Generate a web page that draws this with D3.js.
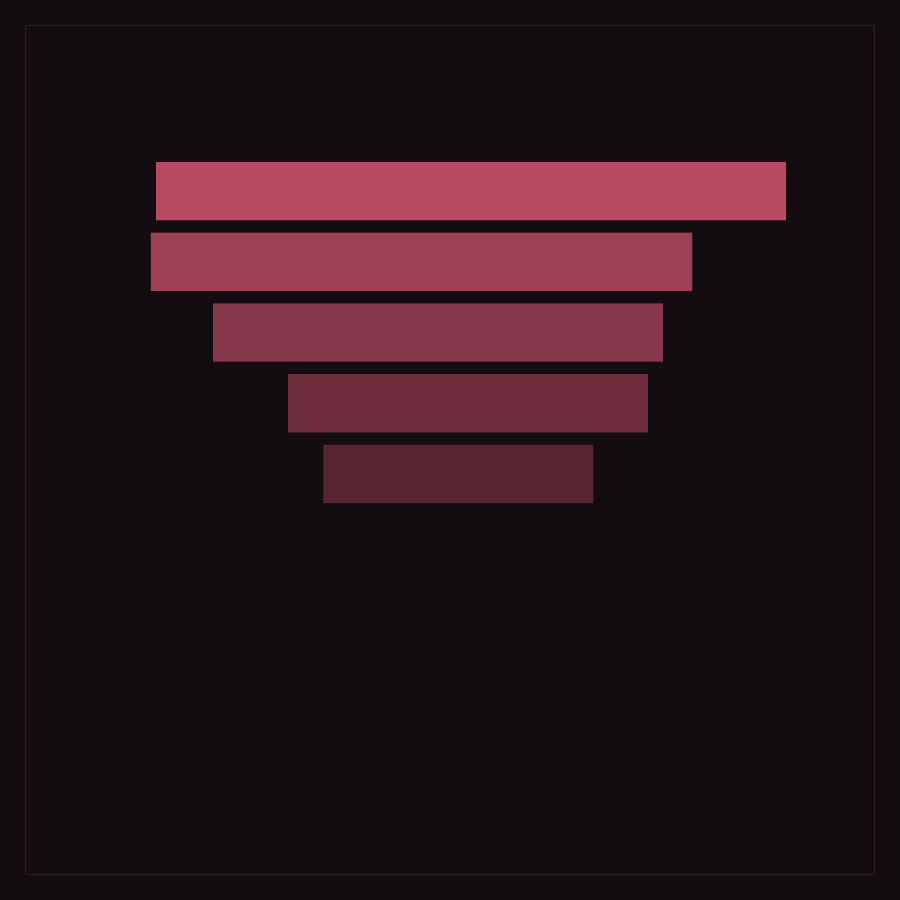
<!DOCTYPE html>
<html>
<head>
<meta charset="utf-8">
<script src="https://cdn.jsdelivr.net/npm/d3@7"></script>
<style>
  html, body { margin: 0; padding: 0; background: #130c10; }
  svg { display: block; }
</style>
</head>
<body>
<div id="chart"></div>
<script>
// etapes de l'entonnoir (pas de libelles visibles sur le graphique)
const stages = ["A", "B", "C", "D", "E"];
// debut et fin de chaque barre (unites 0-100)
const startValues = [10.8, 10.1, 18.4, 28.4, 33.1];
const endValues = [94.8, 82.3, 78.4, 76.4, 69.1];
const barColors = ["#b84a62", "#9c4053", "#87374b", "#6f2d3e", "#5a2533"];

const W = 900, H = 900;

const svg = d3.select("#chart").append("svg")
  .attr("width", W)
  .attr("height", H);

svg.append("rect")
  .attr("width", W)
  .attr("height", H)
  .attr("fill", "#130c10");

// cadre fin
svg.append("rect")
  .attr("x", 25.5)
  .attr("y", 25.5)
  .attr("width", 849)
  .attr("height", 849)
  .attr("fill", "none")
  .attr("stroke", "#2a1f25")
  .attr("stroke-width", 1);

const x = d3.scaleLinear().domain([0, 100]).range([75, 825]);
const y = d3.scaleBand().domain(stages).range([149.6, 515.5]).padding(0.175);

const data = stages.map((s, i) => ({ stage: s, start: startValues[i], end: endValues[i], color: barColors[i] }));

svg.append("g")
  .selectAll("rect")
  .data(data)
  .join("rect")
  .attr("x", d => x(d.start))
  .attr("y", d => y(d.stage))
  .attr("width", d => x(d.end) - x(d.start))
  .attr("height", y.bandwidth())
  .attr("fill", d => d.color);
</script>
</body>
</html>
